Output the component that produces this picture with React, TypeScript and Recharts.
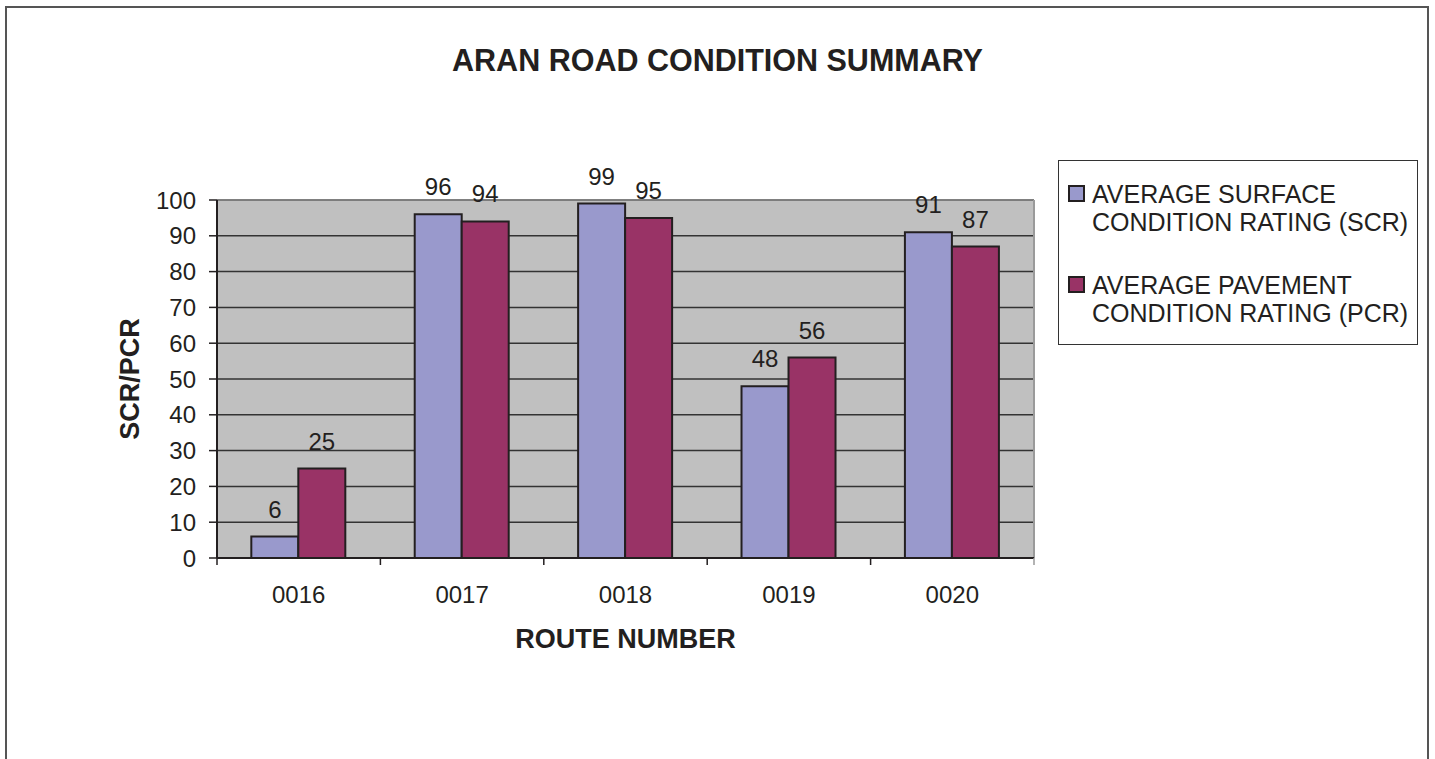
import {
  BarChart,
  Bar,
  XAxis,
  YAxis,
  CartesianGrid,
  LabelList,
  ReferenceLine,
} from "recharts";

const routes = ["0016", "0017", "0018", "0019", "0020"];
const scrValues = [6, 96, 99, 48, 91];
const pcrValues = [25, 94, 95, 56, 87];
const yTicks = [0, 10, 20, 30, 40, 50, 60, 70, 80, 90, 100];
// category edges (whole numbers) get tick marks, centres (halves) get the route label
const routeAxisTicks = [0, 0.5, 1, 1.5, 2, 2.5, 3, 3.5, 4, 4.5, 5];
const seriesNames = [
  "AVERAGE SURFACE CONDITION RATING (SCR)",
  "AVERAGE PAVEMENT CONDITION RATING (PCR)",
];
const seriesColors = ["#9999CC", "#993366"];

const data = routes.map((route, i) => ({
  route,
  slot: i + 0.5,
  scr: scrValues[i],
  pcr: pcrValues[i],
}));

const FONT = '"Liberation Sans", Arial, sans-serif';
const INK = "#231F20";

function RouteTick(props: any) {
  const { x, y, payload } = props;
  const v = payload.value as number;
  if (Number.isInteger(v)) {
    const edge = v === routes.length;
    return (
      <line
        x1={x}
        x2={x}
        y1={y}
        y2={y + 7}
        stroke={edge ? "#9a9a9a" : INK}
        strokeWidth={1.5}
      />
    );
  }
  return (
    <text x={x} y={y + 28} dy="0.71em" textAnchor="middle" fontSize={24} fill={INK}>
      {routes[Math.floor(v)]}
    </text>
  );
}

export default function App() {
  return (
    <div
      style={{
        position: "absolute",
        left: 0,
        top: 0,
        width: 1435,
        height: 759,
        overflow: "hidden",
        background: "#fff",
        fontFamily: FONT,
        color: INK,
      }}
    >
      {/* outer frame, bottom edge runs off the page */}
      <div
        style={{
          position: "absolute",
          left: 5,
          top: 6,
          width: 1424,
          height: 820,
          boxSizing: "border-box",
          border: "2px solid #555",
        }}
      />

      <div
        style={{
          position: "absolute",
          left: 0,
          top: 45,
          width: 1435,
          textAlign: "center",
          fontSize: 30.5,
          fontWeight: "bold",
          lineHeight: 1,
        }}
      >
        ARAN ROAD CONDITION SUMMARY
      </div>

      <div style={{ position: "absolute", left: 0, top: 0 }}>
        <BarChart
          width={1435}
          height={759}
          data={data}
          margin={{ top: 200, right: 401, bottom: 101, left: 117 }}
          barCategoryGap="21%"
          barGap={0}
          style={{ fontFamily: FONT }}
        >
          <CartesianGrid
            xAxisId="cat"
            vertical={false}
            stroke="#333"
            strokeWidth={1.5}
            fill="#C0C0C0"
            fillOpacity={1}
          />
          <XAxis xAxisId="cat" dataKey="route" hide height={0} />
          <XAxis
            xAxisId="edges"
            dataKey="slot"
            type="number"
            domain={[0, routes.length]}
            allowDataOverflow
            ticks={routeAxisTicks}
            interval={0}
            height={100}
            tick={<RouteTick />}
            tickLine={false}
            tickSize={0}
            tickMargin={0}
            axisLine={{ stroke: INK, strokeWidth: 2 }}
            label={{
              value: "ROUTE NUMBER",
              position: "insideBottom",
              offset: 10,
              style: { fontSize: 27, fontWeight: "bold", fill: INK },
            }}
          />
          <YAxis
            width={100}
            domain={[0, 100]}
            ticks={yTicks}
            interval={0}
            tickSize={8}
            tickMargin={13}
            tick={{ fontSize: 24, fill: INK }}
            tickLine={{ stroke: INK, strokeWidth: 1.5 }}
            axisLine={{ stroke: INK, strokeWidth: 2 }}
            label={{
              value: "SCR/PCR",
              angle: -90,
              position: "insideLeft",
              offset: 12,
              style: {
                fontSize: 27,
                fontWeight: "bold",
                fill: INK,
                textAnchor: "middle",
              },
            }}
          />
          <ReferenceLine xAxisId="cat" y={100} stroke="#8a8a8a" strokeWidth={1.5} />
          <ReferenceLine xAxisId="edges" x={routes.length} stroke="#9a9a9a" strokeWidth={2} />
          <Bar
            xAxisId="cat"
            dataKey="scr"
            name={seriesNames[0]}
            fill={seriesColors[0]}
            stroke={INK}
            strokeWidth={2}
            isAnimationActive={false}
          >
            <LabelList dataKey="scr" position="top" offset={19} fontSize={24} fill={INK} />
          </Bar>
          <Bar
            xAxisId="cat"
            dataKey="pcr"
            name={seriesNames[1]}
            fill={seriesColors[1]}
            stroke={INK}
            strokeWidth={2}
            isAnimationActive={false}
          >
            <LabelList dataKey="pcr" position="top" offset={19} fontSize={24} fill={INK} />
          </Bar>
        </BarChart>
      </div>

      {/* legend */}
      <div
        style={{
          position: "absolute",
          left: 1058,
          top: 160,
          width: 360,
          height: 185,
          boxSizing: "border-box",
          border: "1.5px solid #333",
          paddingTop: 19,
          paddingLeft: 9,
        }}
      >
        {seriesNames.map((name, i) => (
          <div
            key={name}
            style={{ display: "flex", alignItems: "flex-start", marginBottom: i === 0 ? 35 : 0 }}
          >
            <div
              style={{
                width: 17,
                height: 17,
                marginTop: 5,
                boxSizing: "border-box",
                border: `2px solid ${INK}`,
                background: seriesColors[i],
                flex: "none",
              }}
            />
            <div
              style={{
                marginLeft: 7,
                width: 330,
                fontSize: 25,
                lineHeight: "28px",
              }}
            >
              {name}
            </div>
          </div>
        ))}
      </div>
    </div>
  );
}
